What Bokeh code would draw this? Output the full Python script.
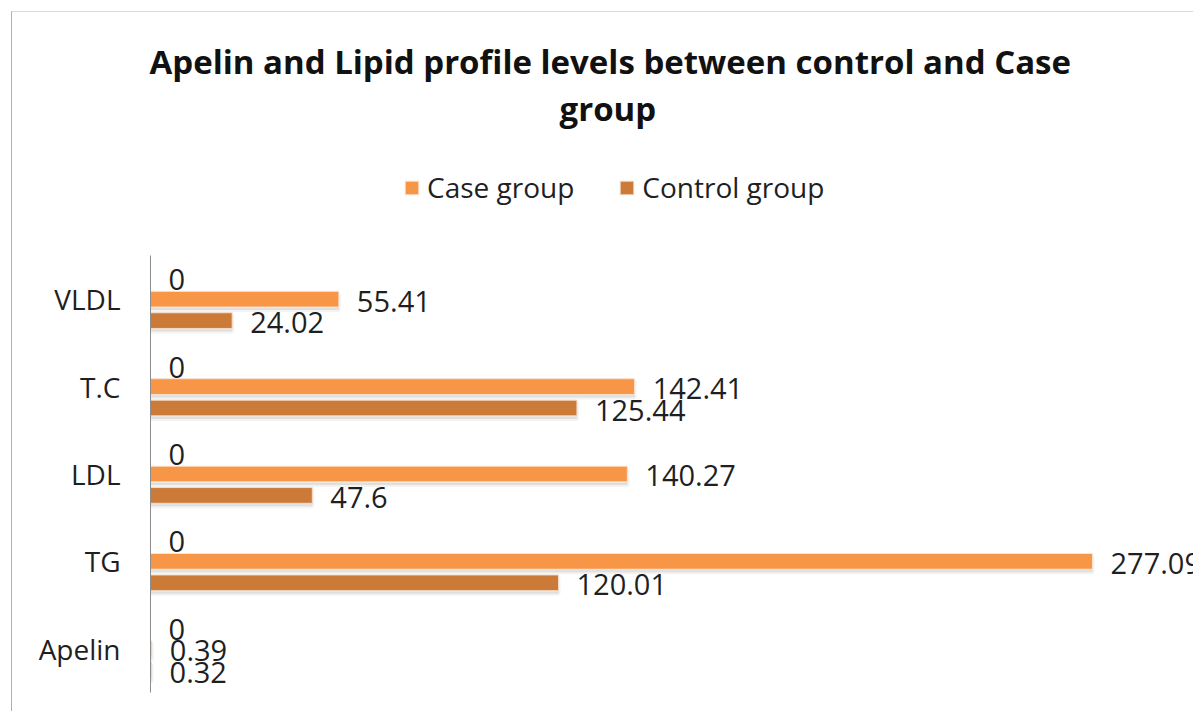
from bokeh.plotting import figure
from bokeh.models import (ColumnDataSource, Range1d, Legend, LegendItem, Title, FixedTicker)
from bokeh.transform import dodge
from bokeh.embed import file_html
from bokeh.resources import INLINE

# ---- data ----
categories = ["Apelin", "TG", "LDL", "T.C", "VLDL"]
case_group = [0.39, 277.09, 140.27, 142.41, 55.41]
control_group = [0.32, 120.01, 47.6, 125.44, 24.02]
hidden_series = [0, 0, 0, 0, 0]

title_line1 = "Apelin and Lipid profile levels between control and Case"
title_line2 = "group"

CASE_COLOR = "#F79646"
CONTROL_COLOR = "#CC7A38"
TEXT = "#1f1f1f"
FONT = "Open Sans"

pos = list(range(len(categories)))

src = ColumnDataSource(dict(
    pos=pos,
    cat=categories,
    case=case_group,
    control=control_group,
    hidden=hidden_series,
    case_lbl=[f"{v:g}" for v in case_group],
    control_lbl=[f"{v:g}" for v in control_group],
    hidden_lbl=[f"{v:g}" for v in hidden_series],
))

p = figure(frame_width=1043, frame_height=562,
           y_range=Range1d(-0.5, 5.93), x_range=Range1d(0, 306.8), x_axis_location=None,
           output_backend="svg", toolbar_location=None, title=None,
           min_border_left=138, min_border_right=0, min_border_bottom=19,
           min_border_top=118)
p.margin = (11, 0, 0, 11)
p.styles = {"border-top": "1px solid #d9d9d9", "border-left": "1px solid #b0b0b0"}
p.outline_line_color = None
p.xgrid.visible = False
p.ygrid.visible = False
p.background_fill_color = "white"
p.border_fill_color = "white"

OFF = 0.245
H = 0.18

# soft shadows under the bars
for col, off in (("case", 0.0), ("control", -OFF)):
    p.hbar(y=dodge("pos", off - 0.035), left=0, right=col, height=H,
           fill_color="#9a9a9a", fill_alpha=0.22, line_color="#9a9a9a", line_alpha=0.12,
           line_width=4, source=src)

r_case = p.hbar(y=dodge("pos", 0.0), left=0, right="case", height=H,
                fill_color=CASE_COLOR, line_color="#fbe3cf", line_width=1, source=src)
r_ctrl = p.hbar(y=dodge("pos", -OFF), left=0, right="control", height=H,
                fill_color=CONTROL_COLOR, line_color="#f3dcc8", line_width=1, source=src)

for col, lbl, off in (("hidden", "hidden_lbl", OFF), ("case", "case_lbl", 0.0),
                      ("control", "control_lbl", -OFF)):
    p.text(x=col, y=dodge("pos", off), text=lbl, source=src,
           x_offset=18, y_offset=2, text_align="left", text_baseline="middle",
           text_font={"value": FONT}, text_font_size="29px", text_color=TEXT)

ax = p.yaxis[0]
ax.ticker = FixedTicker(ticks=pos, minor_ticks=[])
ax.major_label_overrides = {i: c for i, c in zip(pos, categories)}
ax.bounds = (pos[0] - 0.5, pos[-1] + 0.5)
ax.axis_line_color = "#8c8c8c"
ax.axis_line_width = 1
ax.major_tick_line_color = None
ax.minor_tick_line_color = None
ax.major_label_standoff = 24
ax.major_label_text_font = FONT
ax.major_label_text_font_size = "28px"
ax.major_label_text_color = TEXT

legend = Legend(items=[LegendItem(label="Case group", renderers=[r_case]),
                       LegendItem(label="Control group", renderers=[r_ctrl])],
                orientation="horizontal", location=(253, 486),
                label_text_font=FONT, label_text_font_size="28px", label_text_color=TEXT,
                glyph_width=17, glyph_height=17, label_standoff=7, spacing=44,
                border_line_color=None, background_fill_alpha=0,
                margin=0, padding=0)
p.add_layout(legend, "center")

p.add_layout(Title(text=title_line2, align="left", offset=409, text_font=FONT,
                   text_font_size="33px", text_font_style="bold", text_color="#111111",
                   standoff=0), "above")
p.add_layout(Title(text=title_line1, align="left", offset=-1, text_font=FONT,
                   text_font_size="33px", text_font_style="bold", text_color="#111111",
                   standoff=0), "above")

open("out.html", "w").write(file_html(p, INLINE))
